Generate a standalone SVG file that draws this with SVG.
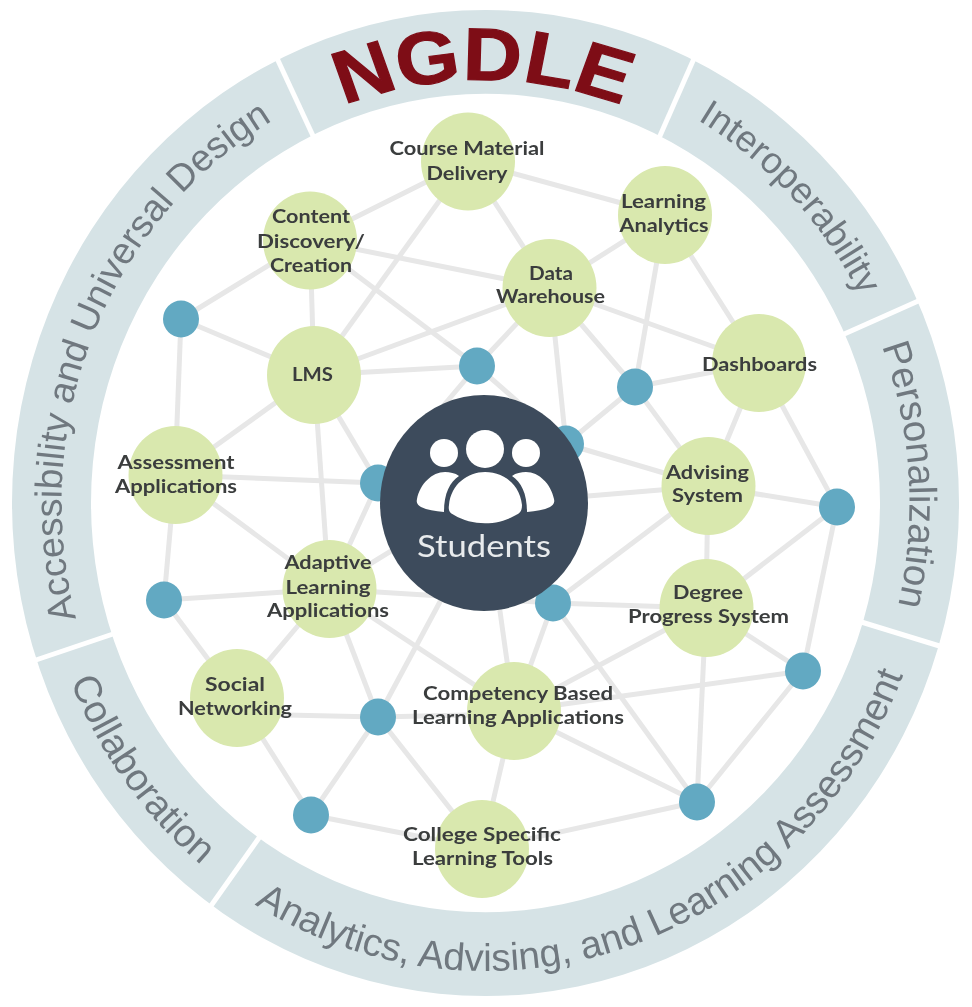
<svg xmlns="http://www.w3.org/2000/svg" width="972" height="1007" viewBox="0 0 972 1007">
<style>
.band{font-family:"Liberation Sans",Arial,sans-serif;fill:#6f787f}
.e line{stroke:#e7e7e7;stroke-width:5}
.g{fill:#d9e8ae}
.b{fill:#62a9c2}
.t{font-family:Lato,"Noto Sans",sans-serif;font-weight:700;font-size:18.5px;fill:#3a3d3e;text-anchor:middle}
</style>
<defs>
<filter id="soft" x="0" y="0" width="972" height="1007" filterUnits="userSpaceOnUse"><feGaussianBlur stdDeviation="0.7"/></filter>
<path id="pA" d="M76.8 620.4A424 442 0 0 1 274.1 119.8"/>
<path id="pI" d="M678 109A424 442 0 0 1 869.7 316.2"/>
<path id="pP" d="M881.6 345.3A424 442 0 0 1 897.8 606.2"/>
<path id="pC" d="M72.2 685.9A449 468 0 0 0 204.2 867.7"/>
<path id="pL" d="M252.2 902.9A449 468 0 0 0 904.1 672.2"/>
<path id="pN" d="M284.5 118.5A359 395 0 0 1 593.6 118.5"/>
</defs>
<rect width="972" height="1007" fill="#fff"/>
<g filter="url(#soft)">
<g id="ring">
<path fill="#d6e3e6" fill-rule="evenodd" d="M12 503A473.5 493 0 1 1 959 503A473.5 493 0 1 1 12 503ZM91 503A394.5 409 0 1 0 880 503A394.5 409 0 1 0 91 503Z"/>
<g stroke="#fff" stroke-width="5">
<line x1="275" y1="54" x2="314" y2="138"/>
<line x1="696" y1="54" x2="659" y2="138"/>
<line x1="925" y1="298" x2="842" y2="335"/>
<line x1="858" y1="621" x2="946" y2="648"/>
<line x1="261" y1="835" x2="208" y2="910"/>
<line x1="116" y1="633" x2="30" y2="662"/>
</g>
<text class="band" font-size="37.6"><textPath href="#pA" startOffset="50%" text-anchor="middle">Accessibility and Universal Design</textPath></text>
<text class="band" font-size="37"><textPath href="#pI" startOffset="50%" text-anchor="middle">Interoperability</textPath></text>
<text class="band" font-size="38.5"><textPath href="#pP" startOffset="50%" text-anchor="middle">Personalization</textPath></text>
<text class="band" font-size="38.6"><textPath href="#pC" startOffset="48%" text-anchor="middle">Collaboration</textPath></text>
<text class="band" font-size="38.7"><textPath href="#pL" startOffset="50%" text-anchor="middle">Analytics, Advising, and Learning Assessment</textPath></text>
<text transform="scale(1.1 1)" font-family="'Liberation Sans',Arial,sans-serif" font-weight="700" font-size="74" fill="#7e0d18" stroke="#7e0d18" stroke-width="1.2"><textPath href="#pN" startOffset="50%" text-anchor="middle">NGDLE</textPath></text>
</g>
<g id="connectors" class="e">
<line x1="468" y1="161" x2="310" y2="240"/>
<line x1="468" y1="161" x2="314" y2="375"/>
<line x1="468" y1="161" x2="665" y2="215"/>
<line x1="468" y1="161" x2="550" y2="288"/>
<line x1="310" y1="240" x2="181" y2="319"/>
<line x1="310" y1="240" x2="314" y2="375"/>
<line x1="310" y1="240" x2="550" y2="288"/>
<line x1="310" y1="240" x2="477" y2="366"/>
<line x1="314" y1="375" x2="181" y2="319"/>
<line x1="314" y1="375" x2="550" y2="288"/>
<line x1="314" y1="375" x2="477" y2="366"/>
<line x1="314" y1="375" x2="175" y2="475"/>
<line x1="314" y1="375" x2="329" y2="589"/>
<line x1="314" y1="375" x2="378" y2="483"/>
<line x1="181" y1="319" x2="175" y2="475"/>
<line x1="175" y1="475" x2="378" y2="483"/>
<line x1="175" y1="475" x2="329" y2="589"/>
<line x1="175" y1="475" x2="164" y2="600"/>
<line x1="164" y1="600" x2="329" y2="589"/>
<line x1="164" y1="600" x2="237" y2="698"/>
<line x1="329" y1="589" x2="237" y2="698"/>
<line x1="329" y1="589" x2="378" y2="717"/>
<line x1="329" y1="589" x2="378" y2="483"/>
<line x1="329" y1="589" x2="566" y2="444"/>
<line x1="329" y1="589" x2="553" y2="603"/>
<line x1="329" y1="589" x2="514" y2="711"/>
<line x1="378" y1="717" x2="484" y2="520"/>
<line x1="237" y1="714" x2="378" y2="717"/>
<line x1="237" y1="698" x2="311" y2="815"/>
<line x1="378" y1="717" x2="311" y2="815"/>
<line x1="378" y1="717" x2="482" y2="849"/>
<line x1="378" y1="717" x2="514" y2="714"/>
<line x1="311" y1="815" x2="482" y2="849"/>
<line x1="514" y1="711" x2="482" y2="849"/>
<line x1="514" y1="711" x2="697" y2="802"/>
<line x1="514" y1="711" x2="803" y2="671"/>
<line x1="514" y1="711" x2="706" y2="608"/>
<line x1="514" y1="711" x2="553" y2="603"/>
<line x1="514" y1="711" x2="490" y2="540"/>
<line x1="482" y1="849" x2="697" y2="802"/>
<line x1="553" y1="603" x2="706" y2="608"/>
<line x1="553" y1="603" x2="697" y2="802"/>
<line x1="553" y1="603" x2="708" y2="486"/>
<line x1="706" y1="608" x2="708" y2="486"/>
<line x1="706" y1="608" x2="837" y2="507"/>
<line x1="706" y1="608" x2="803" y2="671"/>
<line x1="706" y1="608" x2="697" y2="802"/>
<line x1="803" y1="671" x2="837" y2="507"/>
<line x1="803" y1="671" x2="697" y2="802"/>
<line x1="708" y1="486" x2="837" y2="507"/>
<line x1="708" y1="486" x2="540" y2="500"/>
<line x1="708" y1="486" x2="759" y2="363"/>
<line x1="708" y1="486" x2="635" y2="387"/>
<line x1="708" y1="486" x2="566" y2="444"/>
<line x1="759" y1="363" x2="635" y2="387"/>
<line x1="759" y1="363" x2="837" y2="507"/>
<line x1="759" y1="363" x2="665" y2="215"/>
<line x1="759" y1="363" x2="550" y2="288"/>
<line x1="635" y1="387" x2="665" y2="215"/>
<line x1="635" y1="387" x2="550" y2="288"/>
<line x1="635" y1="387" x2="566" y2="444"/>
<line x1="566" y1="444" x2="550" y2="288"/>
<line x1="477" y1="366" x2="550" y2="288"/>
<line x1="550" y1="288" x2="665" y2="215"/>
<line x1="477" y1="366" x2="378" y2="483"/>
<line x1="477" y1="366" x2="566" y2="444"/>
</g>
<g id="hub-b3"><ellipse class="b" cx="378" cy="483" rx="18" ry="18.5"/></g>
<g id="hub-b5"><ellipse class="b" cx="566" cy="444" rx="18" ry="18.5"/></g>
<g id="hub-b8"><ellipse class="b" cx="553" cy="603" rx="18" ry="18.5"/></g>
<g id="hub-b1"><ellipse class="b" cx="181" cy="319" rx="18" ry="18.5"/></g>
<g id="hub-b2"><ellipse class="b" cx="477" cy="366" rx="18" ry="18.5"/></g>
<g id="hub-b4"><ellipse class="b" cx="635" cy="387" rx="18" ry="18.5"/></g>
<g id="hub-b6"><ellipse class="b" cx="837" cy="507" rx="18" ry="18.5"/></g>
<g id="hub-b7"><ellipse class="b" cx="164" cy="600" rx="18" ry="18.5"/></g>
<g id="hub-b9"><ellipse class="b" cx="378" cy="717" rx="18" ry="18.5"/></g>
<g id="hub-b10"><ellipse class="b" cx="311" cy="815" rx="18" ry="18.5"/></g>
<g id="hub-b11"><ellipse class="b" cx="803" cy="671" rx="18" ry="18.5"/></g>
<g id="hub-b12"><ellipse class="b" cx="697" cy="802" rx="18" ry="18.5"/></g>
<g id="students">
<ellipse cx="484" cy="503" rx="104" ry="108" fill="#3e4c5b"/>
<g fill="#fff">
<circle cx="485" cy="449" r="19"/><circle cx="444" cy="453" r="14"/><circle cx="526" cy="453" r="14"/>
<path d="M449 505C451 484 468 472 485 472C503 472 520 484 522 505C522 511 520 513 516 515C498 526 472 526 454 515C450 513 448 511 449 505Z"/>
<path d="M417 499C420 484 432 472 445 472C450 472 455 473 459 476C450 482 444 493 444 512C435 511 427 510 421 507C418 505 416 503 417 499Z"/>
<path d="M554 499C551 484 539 472 526 472C521 472 516 473 512 476C521 482 527 493 527 512C536 511 544 510 550 507C553 505 555 503 554 499Z"/>
</g>
<text x="484" y="557" font-family="Lato,'Noto Sans',sans-serif" font-size="31" fill="#e8ebed" text-anchor="middle" textLength="134" lengthAdjust="spacingAndGlyphs">Students</text>
</g>
<g id="course"><ellipse class="g" cx="468" cy="161.500" rx="47" ry="49"/><text class="t" x="467" y="155" textLength="155" lengthAdjust="spacingAndGlyphs">Course Material</text><text class="t" x="467" y="179.500" textLength="81" lengthAdjust="spacingAndGlyphs">Delivery</text></g>
<g id="content"><ellipse class="g" cx="310" cy="240.500" rx="47" ry="49"/><text class="t" x="311" y="223" textLength="78" lengthAdjust="spacingAndGlyphs">Content</text><text class="t" x="311" y="247.500" textLength="108" lengthAdjust="spacingAndGlyphs">Discovery/</text><text class="t" x="311" y="272" textLength="82" lengthAdjust="spacingAndGlyphs">Creation</text></g>
<g id="lms"><ellipse class="g" cx="314" cy="375" rx="47" ry="49"/><text class="t" x="312.500" y="381" textLength="41" lengthAdjust="spacingAndGlyphs">LMS</text></g>
<g id="assessment"><ellipse class="g" cx="175.500" cy="475" rx="47" ry="49"/><text class="t" x="176" y="469" textLength="117" lengthAdjust="spacingAndGlyphs">Assessment</text><text class="t" x="176" y="493" textLength="122" lengthAdjust="spacingAndGlyphs">Applications</text></g>
<g id="adaptive"><ellipse class="g" cx="329.500" cy="589" rx="47" ry="49"/><text class="t" x="328" y="569" textLength="87" lengthAdjust="spacingAndGlyphs">Adaptive</text><text class="t" x="328" y="593.500" textLength="85" lengthAdjust="spacingAndGlyphs">Learning</text><text class="t" x="328" y="617" textLength="122" lengthAdjust="spacingAndGlyphs">Applications</text></g>
<g id="social"><ellipse class="g" cx="237" cy="698" rx="47" ry="49"/><text class="t" x="235" y="691" textLength="60" lengthAdjust="spacingAndGlyphs">Social</text><text class="t" x="235" y="715" textLength="114" lengthAdjust="spacingAndGlyphs">Networking</text></g>
<g id="competency"><ellipse class="g" cx="514" cy="711" rx="47" ry="49"/><text class="t" x="518" y="700" textLength="190" lengthAdjust="spacingAndGlyphs">Competency Based</text><text class="t" x="518" y="724" textLength="212" lengthAdjust="spacingAndGlyphs">Learning Applications</text></g>
<g id="college"><ellipse class="g" cx="482" cy="849" rx="47" ry="49"/><text class="t" x="482" y="841" textLength="158" lengthAdjust="spacingAndGlyphs">College Specific</text><text class="t" x="482.500" y="865" textLength="141" lengthAdjust="spacingAndGlyphs">Learning Tools</text></g>
<g id="degree"><ellipse class="g" cx="706.500" cy="608" rx="47" ry="49"/><text class="t" x="708" y="599" textLength="70" lengthAdjust="spacingAndGlyphs">Degree</text><text class="t" x="708.500" y="623" textLength="161" lengthAdjust="spacingAndGlyphs">Progress System</text></g>
<g id="advising"><ellipse class="g" cx="708.500" cy="486" rx="47" ry="49"/><text class="t" x="707.500" y="479" textLength="83" lengthAdjust="spacingAndGlyphs">Advising</text><text class="t" x="707.500" y="502" textLength="71" lengthAdjust="spacingAndGlyphs">System</text></g>
<g id="dashboards"><ellipse class="g" cx="759" cy="363" rx="47" ry="49"/><text class="t" x="759.500" y="371" textLength="115" lengthAdjust="spacingAndGlyphs">Dashboards</text></g>
<g id="warehouse"><ellipse class="g" cx="549.500" cy="288" rx="47" ry="49"/><text class="t" x="551" y="280" textLength="44" lengthAdjust="spacingAndGlyphs">Data</text><text class="t" x="550.500" y="303" textLength="109" lengthAdjust="spacingAndGlyphs">Warehouse</text></g>
<g id="analytics"><ellipse class="g" cx="665" cy="215" rx="47" ry="49"/><text class="t" x="663.500" y="208" textLength="85" lengthAdjust="spacingAndGlyphs">Learning</text><text class="t" x="664" y="232" textLength="89" lengthAdjust="spacingAndGlyphs">Analytics</text></g>
</g>
</svg>
